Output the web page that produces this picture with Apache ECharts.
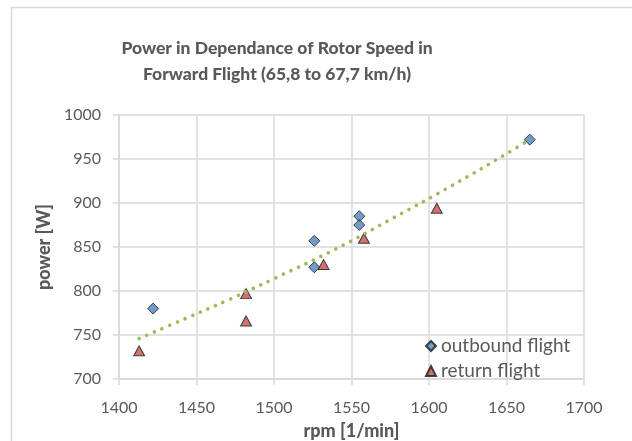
<!DOCTYPE html>
<html>
<head>
<meta charset="utf-8">
<style>
  html, body { margin: 0; padding: 0; background: #fff; }
  #chart { width: 632px; height: 441px; }
</style>
<script src="https://cdn.jsdelivr.net/npm/echarts@6/dist/echarts.min.js"></script>
</head>
<body>
<div id="chart"></div>
<script>
// Measured rotor speed (rpm) and electrical power (W), forward flight 65,8 to 67,7 km/h
const outboundRpm   = [1422, 1526, 1526, 1555, 1555, 1665];
const outboundPower = [780, 857, 827, 885, 875, 972];
const returnRpm     = [1413, 1482, 1482, 1532, 1558, 1605];
const returnPower   = [732, 797, 766, 830, 860, 894];
// Trend curve through both flights
const trendRpm   = [1413, 1442, 1472, 1500, 1539, 1577, 1614, 1651, 1665];
const trendPower = [746, 768, 791, 814, 847, 883, 919, 957, 972];
// Axis ranges
const rpmTicks   = [1400, 1450, 1500, 1550, 1600, 1650, 1700];
const powerTicks = [700, 750, 800, 850, 900, 950, 1000];

const titleLines = ['Power in Dependance of Rotor Speed in', 'Forward Flight (65,8 to 67,7 km/h)'];
const seriesNames = ['outbound flight', 'return flight'];

const FONT = 'Lato, "Open Sans", sans-serif';
const GREY = '#595959';
const GRID = '#d9d9d9';

const zip = (xs, ys) => xs.map((x, i) => [x, ys[i]]);

const chart = echarts.init(document.getElementById('chart'), null, { renderer: 'canvas' });

chart.setOption({
  animation: false,
  backgroundColor: '#fff',
  textStyle: { fontFamily: FONT },
  graphic: [
    {
      type: 'rect',
      shape: { x: 11.5, y: 7.5, width: 700, height: 500 },
      style: { fill: 'none', stroke: GRID, lineWidth: 1.5 },
      silent: true
    },
    {
      type: 'text',
      x: 277, y: 61,
      style: {
        text: titleLines.join('\n'),
        fontFamily: FONT, fontSize: 17.5, fontWeight: 900,
        fill: GREY, align: 'center', verticalAlign: 'middle', lineHeight: 26
      },
      silent: true
    }
  ],
  grid: { left: 119, right: 48, top: 115, bottom: 62, containLabel: false, outerBoundsMode: 'none' },
  legend: {
    orient: 'vertical',
    left: 420, top: 331,
    itemWidth: 10, itemHeight: 10,
    itemGap: 5,
    textStyle: { color: GREY, fontSize: 19, fontFamily: FONT, lineHeight: 20 },
    data: seriesNames
  },
  xAxis: {
    type: 'value',
    min: rpmTicks[0], max: rpmTicks[rpmTicks.length - 1],
    interval: rpmTicks[1] - rpmTicks[0],
    name: 'rpm [1/min]',
    nameLocation: 'middle',
    nameGap: 43,
    nameTextStyle: { color: GREY, fontSize: 18, fontWeight: 900, fontFamily: FONT },
    axisLine: { show: true, lineStyle: { color: GRID, width: 1.5 } },
    axisTick: { show: true, length: 6, lineStyle: { color: GRID, width: 1.5 } },
    axisLabel: { color: GREY, fontSize: 16, margin: 21, fontFamily: FONT, formatter: v => String(v) },
    splitLine: { show: true, lineStyle: { color: GRID, width: 1.5 } }
  },
  yAxis: {
    type: 'value',
    min: powerTicks[0], max: powerTicks[powerTicks.length - 1],
    interval: powerTicks[1] - powerTicks[0],
    name: 'power [W]',
    nameLocation: 'middle',
    nameGap: 65,
    nameTextStyle: { color: GREY, fontSize: 18, fontWeight: 900, fontFamily: FONT },
    axisLine: { show: true, lineStyle: { color: GRID, width: 1.5 } },
    axisTick: { show: true, length: 6, lineStyle: { color: GRID, width: 1.5 } },
    axisLabel: { color: GREY, fontSize: 16, margin: 18, fontFamily: FONT, formatter: v => String(v) },
    splitLine: { show: true, lineStyle: { color: GRID, width: 1.5 } }
  },
  series: [
    {
      name: seriesNames[0],
      type: 'scatter',
      symbol: 'diamond',
      symbolSize: [11, 11],
      itemStyle: { color: '#4f81bd', borderColor: '#1a1a1a', borderWidth: 1 },
      data: zip(outboundRpm, outboundPower),
      z: 3
    },
    {
      name: seriesNames[1],
      type: 'scatter',
      symbol: 'triangle',
      symbolSize: [11, 10],
      itemStyle: { color: '#c0504d', borderColor: '#1a1a1a', borderWidth: 1 },
      data: zip(returnRpm, returnPower),
      z: 3
    },
    {
      name: 'trend',
      type: 'line',
      smooth: 0.4,
      showSymbol: false,
      symbol: 'none',
      lineStyle: { color: '#9bbb59', width: 3.6, type: [0.01, 8.3], cap: 'round' },
      data: zip(trendRpm, trendPower),
      z: 4,
      silent: true
    }
  ]
});
</script>
</body>
</html>
